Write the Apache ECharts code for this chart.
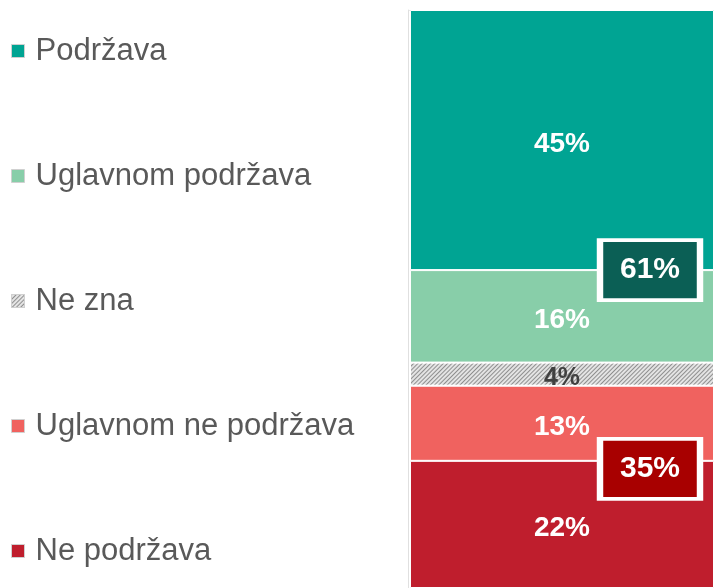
<!DOCTYPE html>
<html>
<head>
<meta charset="utf-8">
<script src="https://cdn.jsdelivr.net/npm/echarts@6/dist/echarts.min.js"></script>
<style>
  html, body { margin: 0; padding: 0; background: #fff; }
  #chart { width: 714px; height: 588px; }
</style>
</head>
<body>
<div id="chart"></div>
<script>
// series names, top to bottom
const names = ['Podržava', 'Uglavnom podržava', 'Ne zna', 'Uglavnom ne podržava', 'Ne podržava']
const values = [45, 16, 4, 13, 22]
const colors = ['#00a493', '#88cea9', '#e4e4e4', '#f0625f', '#bf1e2d']

const supportTotal = values[0] + values[1]   // 61
const againstTotal = values[3] + values[4]   // 35

const font = 'Liberation Sans'

const myChart = echarts.init(document.getElementById('chart'))

const boxLabel = {
  show: true,
  color: '#fff',
  fontSize: 30,
  fontWeight: 'bold',
  fontFamily: font,
  formatter: p => p.value + '%'
}

const series = names.map((name, i) => {
  const s = {
    name: name,
    type: 'bar',
    stack: 'total',
    barCategoryGap: '0%',
    data: [values[i]],
    itemStyle: {
      color: colors[i],
      borderColor: '#fff',
      borderWidth: 1
    },
    label: {
      show: true,
      position: 'inside',
      offset: [0, 4],
      formatter: '{c}%',
      color: i === 2 ? '#404040' : '#fff',
      fontSize: i === 2 ? 25 : 28,
      fontWeight: 'bold',
      fontFamily: font
    }
  }
  if (i === 2) {
    s.itemStyle.decal = {
      symbol: 'rect',
      color: '#8f8f8f',
      dashArrayX: [1, 0],
      dashArrayY: [1, 2],
      rotation: -Math.PI / 4,
      symbolSize: 1
    }
  }
  return s
})

// 61% box sits on the first boundary
series[0].markPoint = {
  symbol: 'rect',
  symbolSize: [100, 60],
  symbolOffset: [88, 0],
  itemStyle: { color: '#0b5f55', borderColor: '#fff', borderWidth: 5 },
  label: boxLabel,
  data: [{ coord: [0, values[0]], value: supportTotal }]
}
// 35% box near the last boundary
series[4].markPoint = {
  symbol: 'rect',
  symbolSize: [100, 60],
  symbolOffset: [88, 8],
  itemStyle: { color: '#a80000', borderColor: '#fff', borderWidth: 5 },
  label: boxLabel,
  data: [{ coord: [0, 100 - values[4]], value: againstTotal }]
}

const option = {
  animation: false,
  aria: { decal: { show: false } },
  grid: { left: 410, right: 0, top: 10, bottom: 0 },
  legend: {
    orient: 'vertical',
    left: 6,
    top: 30,
    itemWidth: 13,
    itemHeight: 13,
    itemGap: 93,
    icon: 'rect',
    selectedMode: false,
    data: names,
    itemStyle: { borderColor: '#d0d0d0', borderWidth: 1 },
    textStyle: {
      color: '#595959',
      fontSize: 31,
      fontFamily: font,
      lineHeight: 32,
      padding: [0, 0, 0, 6]
    }
  },
  xAxis: {
    type: 'category',
    position: 'top',
    offset: 2,
    data: [''],
    axisLine: { show: true, lineStyle: { color: '#c8c8c8', width: 1 } },
    axisTick: { show: false },
    axisLabel: { show: false }
  },
  yAxis: {
    type: 'value',
    min: 0,
    max: 100,
    inverse: true,
    offset: 2,
    axisLine: { show: true, lineStyle: { color: '#e0e0e0' } },
    axisTick: { show: false },
    axisLabel: { show: false },
    splitLine: { show: false }
  },
  series: series
}

myChart.setOption(option)
</script>
</body>
</html>
